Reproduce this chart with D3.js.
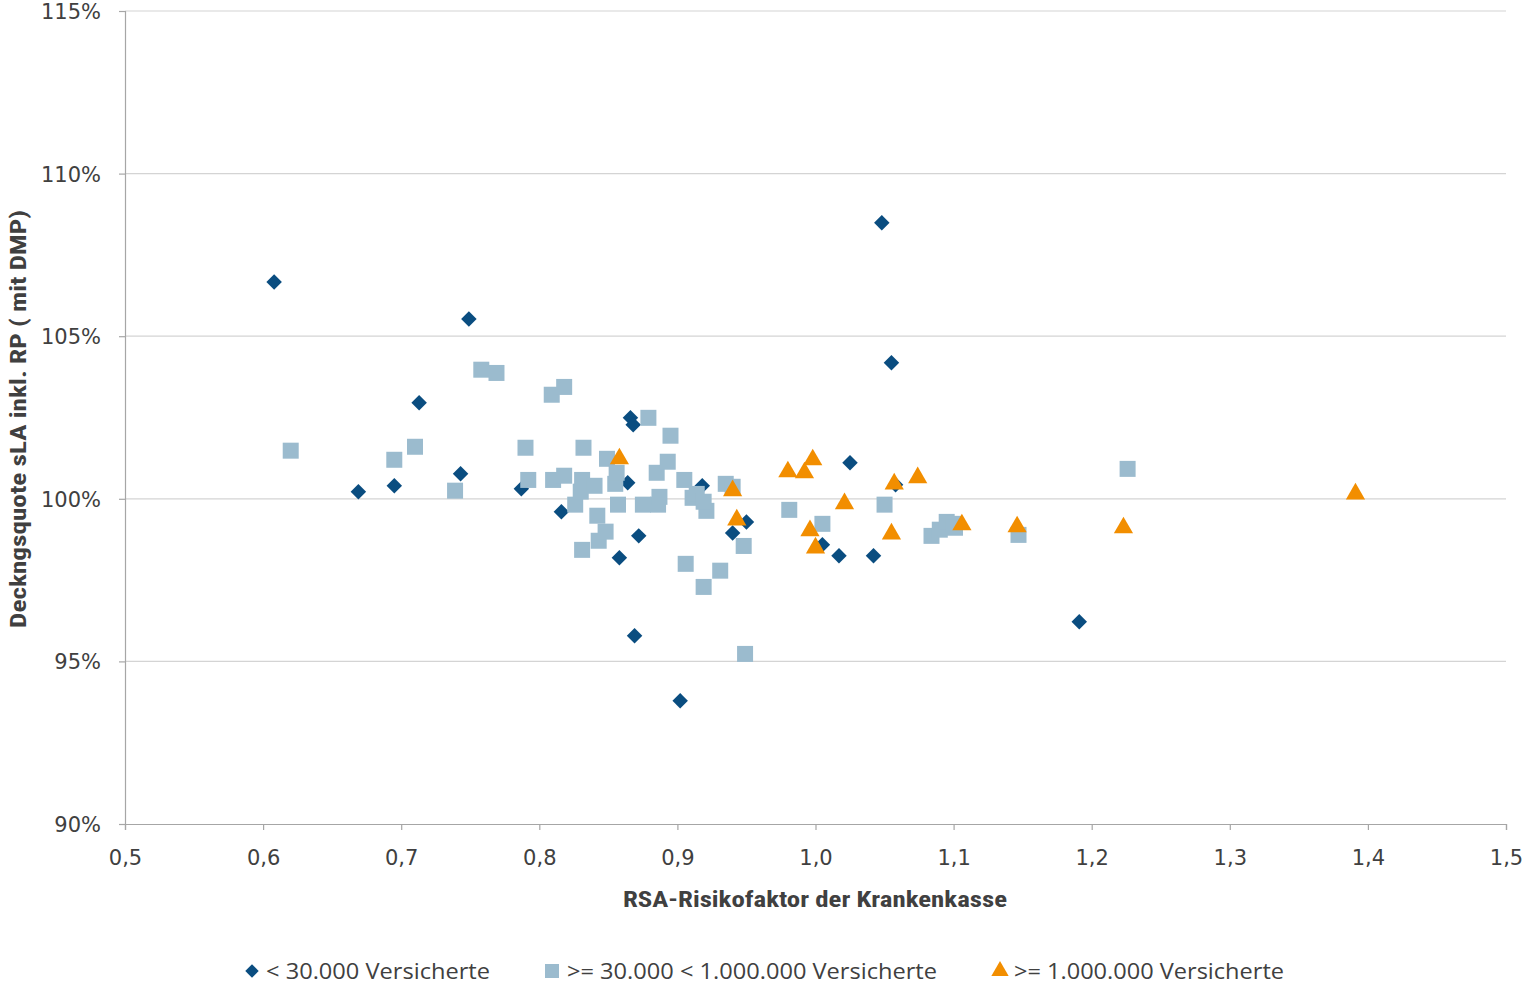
<!DOCTYPE html>
<html>
<head>
<meta charset="utf-8">
<script src="https://cdn.jsdelivr.net/npm/d3@7"></script>
<style>
  html, body { margin: 0; padding: 0; background: #fff; }
  svg { display: block; }
</style>
</head>
<body>
<svg id="chart" width="1524" height="984"></svg>
<script>
// ---- Data ----
const seriesNames = ["< 30.000 Versicherte", ">= 30.000 < 1.000.000 Versicherte", ">= 1.000.000 Versicherte"];
const xTicks = [0.5, 0.6, 0.7, 0.8, 0.9, 1.0, 1.1, 1.2, 1.3, 1.4, 1.5];
const yTicks = [90, 95, 100, 105, 110, 115];
const xTitle = "RSA-Risikofaktor der Krankenkasse";
const yTitle = "Deckngsquote sLA inkl. RP ( mit DMP)";

// < 30.000 Versicherte  [RSA-Risikofaktor, Deckungsquote %]
const smallKassen = [
  [0.608, 106.67], [0.749, 105.53], [0.713, 102.95], [0.669, 100.22], [0.695, 100.40],
  [0.743, 100.77], [0.787, 100.31], [0.816, 99.60], [0.866, 102.49], [0.868, 102.28],
  [0.864, 100.49], [0.858, 98.19], [0.872, 98.86], [0.869, 95.79], [0.902, 93.79],
  [0.918, 100.40], [0.950, 99.29], [0.940, 98.95], [1.005, 98.59], [1.017, 98.25],
  [1.042, 98.25], [1.025, 101.11], [1.048, 108.49], [1.055, 104.18], [1.058, 100.43],
  [1.191, 96.22]
];

// >= 30.000 < 1.000.000 Versicherte
const mediumKassen = [
  [0.620, 101.48], [0.695, 101.20], [0.710, 101.60], [0.739, 100.25], [0.758, 103.97],
  [0.769, 103.87], [0.790, 101.57], [0.792, 100.58], [0.809, 103.20], [0.818, 103.44],
  [0.810, 100.58], [0.818, 100.71], [0.826, 99.82], [0.831, 100.58], [0.830, 100.22],
  [0.832, 101.57], [0.831, 98.43], [0.840, 100.40], [0.842, 99.48], [0.843, 98.71],
  [0.848, 98.99], [0.849, 101.23], [0.855, 100.46], [0.856, 100.80], [0.857, 99.82],
  [0.875, 99.82], [0.879, 102.49], [0.885, 100.80], [0.886, 99.82], [0.887, 100.06],
  [0.893, 101.14], [0.895, 101.94], [0.905, 100.58], [0.906, 98.00], [0.911, 100.03],
  [0.914, 100.15], [0.921, 99.63], [0.919, 99.91], [0.919, 97.29], [0.931, 97.79],
  [0.935, 100.46], [0.940, 100.37], [0.948, 98.55], [0.949, 95.23], [0.981, 99.66],
  [1.005, 99.23], [1.050, 99.82], [1.084, 98.86], [1.090, 99.05], [1.095, 99.29],
  [1.100, 99.23], [1.101, 99.11], [1.147, 98.89], [1.226, 100.92]
];

// >= 1.000.000 Versicherte
const largeKassen = [
  [0.858, 101.23], [0.940, 100.25], [0.943, 99.35], [0.980, 100.83], [0.992, 100.80],
  [0.998, 101.20], [0.996, 99.02], [1.000, 98.49], [1.021, 99.85], [1.057, 100.46],
  [1.074, 100.65], [1.055, 98.92], [1.106, 99.20], [1.146, 99.14], [1.223, 99.11],
  [1.391, 100.15]
];

// ---- Layout / style ----
const colors = ["#0a4d80", "#9bbbce", "#f28e00"];
const tickFont = "'DejaVu Sans', sans-serif";
const titleFont = "'Liberation Sans Narrow', 'Roboto Condensed', 'Liberation Sans', sans-serif";
const legendFont = "'Open Sans', 'DejaVu Sans', sans-serif";

const svg = d3.select("#chart");
const plotLeft = 125, plotRight = 1506, plotTop = 11, plotBottom = 824;

const x = d3.scaleLinear().domain([0.5, 1.5]).range([plotLeft, plotRight]);
const y = d3.scaleLinear().domain([90, 115]).range([plotBottom, plotTop]);

const fmtX = d => d3.format(".1f")(d).replace(".", ",");
const fmtY = d => d + "%";

// gridlines
svg.append("g")
  .selectAll("line")
  .data(yTicks.filter(t => t > 90))
  .join("line")
  .attr("x1", plotLeft).attr("x2", plotRight)
  .attr("y1", d => y(d)).attr("y2", d => y(d))
  .attr("stroke", "#d4d4d4").attr("stroke-width", 1.2);

// Y axis
const yAxis = svg.append("g")
  .attr("transform", `translate(${plotLeft},0)`)
  .call(d3.axisLeft(y).tickValues(yTicks).tickFormat(fmtY).tickSize(6).tickPadding(18));
yAxis.select(".domain").attr("stroke", "#a6a6a6").attr("stroke-width", 1.2);
yAxis.selectAll(".tick line").attr("stroke", "#a6a6a6").attr("stroke-width", 1.2);
yAxis.selectAll(".tick text")
  .attr("font-family", tickFont).attr("font-size", 21).attr("fill", "#404040")
  .attr("dy", "0.36em");

// X axis
const xAxis = svg.append("g")
  .attr("transform", `translate(0,${plotBottom})`)
  .call(d3.axisBottom(x).tickValues(xTicks).tickFormat(fmtX).tickSize(6).tickPadding(20));
xAxis.select(".domain").attr("stroke", "#a6a6a6").attr("stroke-width", 1.2);
xAxis.selectAll(".tick line").attr("stroke", "#a6a6a6").attr("stroke-width", 1.2);
xAxis.selectAll(".tick text")
  .attr("font-family", tickFont).attr("font-size", 21).attr("fill", "#404040");

// axis titles
svg.append("text")
  .attr("x", 815).attr("y", 907)
  .attr("text-anchor", "middle")
  .attr("font-family", titleFont).attr("font-weight", "bold").attr("font-size", 22)
  .attr("fill", "#404040")
  .attr("textLength", 384).attr("lengthAdjust", "spacingAndGlyphs")
  .text(xTitle);

svg.append("text")
  .attr("transform", "translate(26,419) rotate(-90)")
  .attr("text-anchor", "middle")
  .attr("font-family", titleFont).attr("font-weight", "bold").attr("font-size", 22)
  .attr("fill", "#404040")
  .attr("textLength", 418).attr("lengthAdjust", "spacingAndGlyphs")
  .text(yTitle);

// markers
const symDiamond = d3.symbol().type(d3.symbolSquare).size(120)();
const symSquare = d3.symbol().type(d3.symbolSquare).size(256)();
const symTriangle = d3.symbol().type(d3.symbolTriangle).size(160)();

svg.append("g").selectAll("path").data(smallKassen).join("path")
  .attr("d", symDiamond)
  .attr("transform", d => `translate(${x(d[0])},${y(d[1])}) rotate(45)`)
  .attr("fill", colors[0]);

svg.append("g").selectAll("path").data(mediumKassen).join("path")
  .attr("d", symSquare)
  .attr("transform", d => `translate(${x(d[0])},${y(d[1])})`)
  .attr("fill", colors[1]);

svg.append("g").selectAll("path").data(largeKassen).join("path")
  .attr("d", symTriangle)
  .attr("transform", d => `translate(${x(d[0])},${y(d[1])})`)
  .attr("fill", colors[2]);

// legend
const legendItems = [
  { sym: d3.symbol().type(d3.symbolSquare).size(90)(), rot: 45, color: colors[0], x: 252, tx: 266, w: 224 },
  { sym: d3.symbol().type(d3.symbolSquare).size(196)(), rot: 0, color: colors[1], x: 552, tx: 567, w: 370 },
  { sym: d3.symbol().type(d3.symbolTriangle).size(130)(), rot: 0, color: colors[2], x: 1000, tx: 1014, w: 270 }
];
const lg = svg.append("g");
legendItems.forEach((it, i) => {
  lg.append("path").attr("d", it.sym)
    .attr("transform", `translate(${it.x},971) rotate(${it.rot})`)
    .attr("fill", it.color);
  lg.append("text")
    .attr("x", it.tx).attr("y", 971).attr("dy", "0.36em")
    .attr("font-family", legendFont).attr("font-size", 21).attr("fill", "#404040")
    .attr("textLength", it.w).attr("lengthAdjust", "spacingAndGlyphs")
    .text(seriesNames[i]);
});
</script>
</body>
</html>
